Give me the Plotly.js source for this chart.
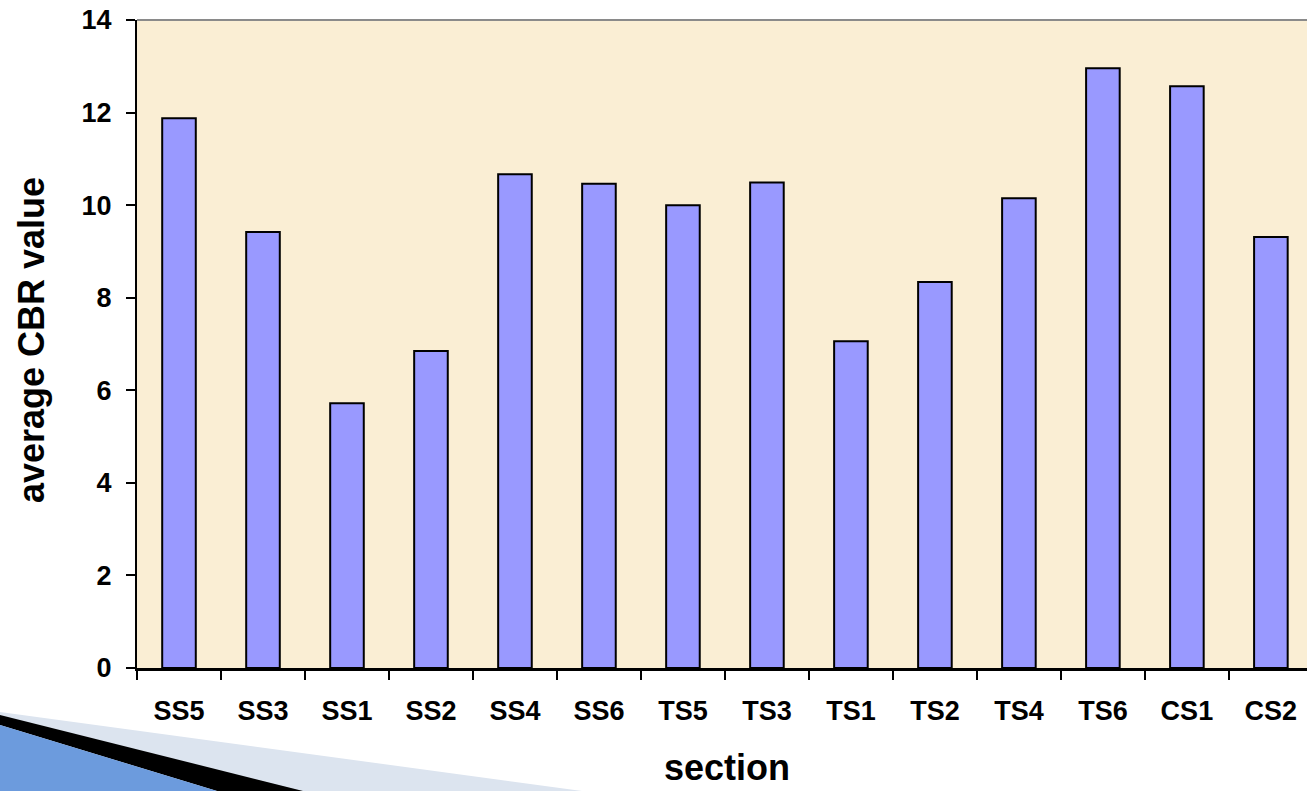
<!DOCTYPE html>
<html>
<head>
<meta charset="utf-8">
<script src="https://cdn.plot.ly/plotly-3.0.1.min.js"></script>
<style>
html,body{margin:0;padding:0;background:#ffffff;}
#chart{width:1307px;height:791px;}
</style>
</head>
<body>
<div id="chart"></div>
<script>
const categories = ["SS5","SS3","SS1","SS2","SS4","SS6","TS5","TS3","TS1","TS2","TS4","TS6","CS1","CS2"];
const cbrValues = [11.88, 9.42, 5.72, 6.85, 10.67, 10.46, 10.0, 10.49, 7.06, 8.34, 10.15, 12.96, 12.57, 9.31];
const yTickValues = [0, 2, 4, 6, 8, 10, 12, 14];
const xTitle = "section";
const yTitle = "average CBR value";

const FONT = "Arial, 'Liberation Sans', sans-serif";

const trace = {
  type: "bar",
  x: categories,
  y: cbrValues,
  width: 0.4,
  marker: {color: "#9999FF", line: {color: "#000000", width: 2}},
  hoverinfo: "x+y"
};

const layout = {
  width: 1307,
  height: 791,
  margin: {l: 137, r: 0, t: 20, b: 123, pad: 0},
  paper_bgcolor: "#ffffff",
  plot_bgcolor: "#FAEED4",
  showlegend: false,
  bargap: 0.6,
  font: {family: FONT, color: "#000000"},
  xaxis: {
    type: "category",
    range: [-0.5, 13.43],
    tickson: "boundaries",
    ticks: "outside",
    ticklen: 9,
    tickwidth: 2,
    tickcolor: "#000000",
    ticklabelstandoff: 17,
    showline: true,
    linecolor: "#000000",
    linewidth: 3,
    showgrid: false,
    zeroline: false,
    tickfont: {family: FONT, size: 27, color: "#000000", weight: "bold"},
    fixedrange: true
  },
  yaxis: {
    range: [0, 14],
    tickvals: yTickValues,
    ticks: "outside",
    ticklen: 9,
    tickwidth: 2,
    tickcolor: "#000000",
    ticklabelstandoff: 9,
    showline: true,
    linecolor: "#000000",
    linewidth: 2,
    showgrid: false,
    zeroline: false,
    tickfont: {family: FONT, size: 27, color: "#000000", weight: "bold"},
    fixedrange: true
  },
  annotations: [
    {text: yTitle, xref: "paper", yref: "paper", x: -0.0906, y: 0.506, xanchor: "center", yanchor: "middle",
     textangle: -90, showarrow: false, font: {family: FONT, size: 36, color: "#000000", weight: "bold"}},
    {text: xTitle, xref: "paper", yref: "paper", x: 0.5043, y: -0.1867, xanchor: "center", yanchor: "bottom",
     showarrow: false, borderpad: 0, font: {family: FONT, size: 36, color: "#000000", weight: "bold"}}
  ],
  shapes: [
    {type: "line", xref: "paper", yref: "paper", x0: 0, x1: 1, y0: 1, y1: 1, line: {color: "#8a8a8a", width: 2}},
    {type: "path", xref: "paper", yref: "paper", path: "M -0.1171 -0.0679 L 0.3803 -0.1898 L -0.1171 -0.1898 Z",
     fillcolor: "#DCE4EF", line: {width: 0}},
    {type: "path", xref: "paper", yref: "paper", path: "M -0.1171 -0.0725 L 0.1419 -0.1898 L 0.0684 -0.1898 L -0.1171 -0.0880 Z",
     fillcolor: "#000000", line: {width: 0}},
    {type: "path", xref: "paper", yref: "paper", path: "M -0.1171 -0.0880 L 0.0684 -0.1898 L -0.1171 -0.1898 Z",
     fillcolor: "#6C9BDD", line: {width: 0}}
  ]
};

Plotly.newPlot("chart", [trace], layout, {displayModeBar: false, staticPlot: true});
</script>
</body>
</html>
